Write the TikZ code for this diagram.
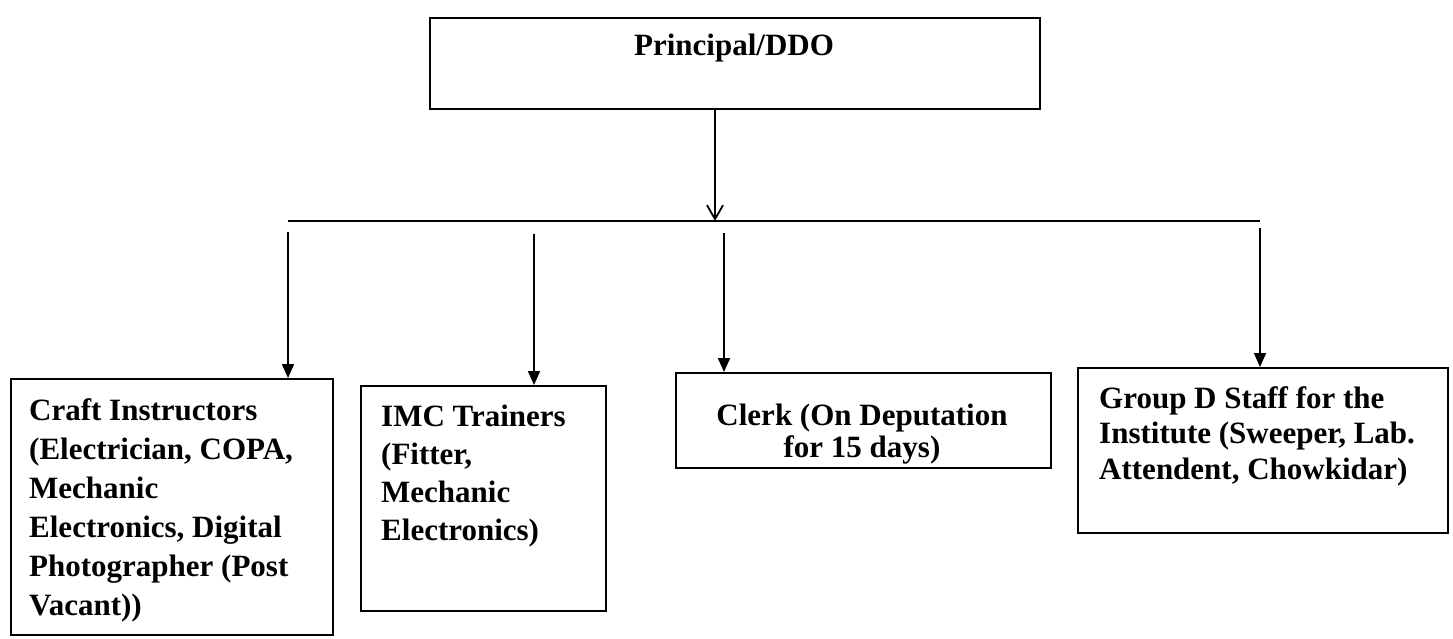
\documentclass[tikz,border=0pt]{standalone}
\usepackage{fontspec}
\setmainfont{Liberation Serif}
\usetikzlibrary{arrows.meta}
\begin{document}
\begin{tikzpicture}[x=1pt,y=-1pt,
  box/.style={draw, line width=2.2pt, inner sep=0pt, anchor=north west},
  lbl/.style={inner sep=0pt, align=left, anchor=north west},
  feed/.style={line width=1.8pt, -{Triangle[length=14pt,width=12pt]}},
  mainarrow/.style={line width=1.8pt, -{Straight Barb[length=14pt,width=16pt,line width=1.8pt]}},
  bus/.style={line width=2pt}
  ]
\useasboundingbox (0,0) rectangle (1453,639);
\fill[white] (0,0) rectangle (1453,639);

% boxes
\node[box, minimum width=610pt, minimum height=91pt] (top) at (429,17) {};
\node[box, minimum width=322pt, minimum height=256pt] (craft) at (10,378) {};
\node[box, minimum width=245pt, minimum height=225pt] (imc) at (360,385) {};
\node[box, minimum width=375pt, minimum height=95pt] (clerk) at (675,372) {};
\node[box, minimum width=370pt, minimum height=165pt] (groupd) at (1077,367) {};

% texts
\node[inner sep=0pt, anchor=base, font=\fontsize{31}{38}\selectfont\bfseries] (toptext) at (734,56) {Principal/DDO};
\node[lbl, font=\fontsize{31}{39}\selectfont\bfseries] (crafttext) at (29,398)
  {Craft Instructors\\(Electrician, COPA,\\Mechanic\\Electronics, Digital\\Photographer (Post\\Vacant))};
\node[lbl, font=\fontsize{31}{38}\selectfont\bfseries] (imctext) at (381,405)
  {IMC Trainers\\(Fitter,\\Mechanic\\Electronics)};
\node[inner sep=0pt, align=center, anchor=north, font=\fontsize{31}{32}\selectfont\bfseries] (clerktext) at (862,404)
  {Clerk (On Deputation\\for 15 days)};
\node[lbl, font=\fontsize{31}{35.5}\selectfont\bfseries] (groupdtext) at (1099,386)
  {Group D Staff for the\\Institute (Sweeper, Lab.\\Attendent, Chowkidar)};

% connectors
\coordinate (busL) at (288,221);
\coordinate (busR) at (1260,221);
\coordinate (busM) at (715,221);
\coordinate (s1) at (288,232);
\coordinate (s2) at (534,234);
\coordinate (s3) at (724,233);
\coordinate (s4) at (1260,228);

\draw[mainarrow] (top.south -| busM) -- (busM);
\draw[bus] (busL) -- (busR);
\draw[feed] (s1) -- (s1 |- craft.north);
\draw[feed] (s2) -- (s2 |- imc.north);
\draw[feed] (s3) -- (s3 |- clerk.north);
\draw[feed] (s4) -- (s4 |- groupd.north);
\end{tikzpicture}
\end{document}
